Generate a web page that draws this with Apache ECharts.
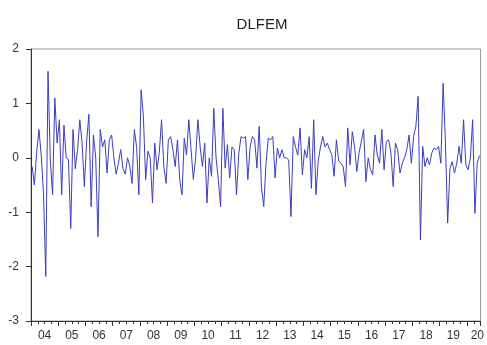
<!DOCTYPE html>
<html>
<head>
<meta charset="utf-8">
<script src="https://cdn.jsdelivr.net/npm/echarts@6/dist/echarts.min.js"></script>
<style>html,body{margin:0;padding:0;background:#fff}#c{width:487px;height:345px}</style>
</head>
<body>
<div id="c"></div>
<script>
// Monthly observations, 2004M01 .. 2020M06
var startYear = 2004;
var endYear = 2020.5;
var values = [
  -0.16, -0.5, 0.1, 0.52, 0.05, -0.65, -2.18, 1.59, -0.04, -0.68,
  1.1, 0.27, 0.7, -0.68, 0.6, 0.0, -0.03, -1.3, 0.52, -0.2,
  0.15, 0.7, 0.27, -0.53, 0.3, 0.8, -0.9, 0.42, 0.0, -1.45,
  0.52, 0.2, 0.33, -0.28, 0.33, 0.42, 0.0, -0.3, -0.1, 0.15,
  -0.2, -0.3, 0.0, -0.15, -0.47, 0.52, 0.2, -0.68, 1.25, 0.76,
  -0.4, 0.12, 0.0, -0.83, 0.27, -0.22, 0.1, 0.7, -0.16, -0.47,
  0.33, 0.39, 0.15, -0.16, 0.33, -0.4, -0.68, 0.36, 0.05, 0.7,
  0.15, -0.4, 0.0, 0.7, 0.2, -0.16, 0.27, -0.83, 0.0, -0.34,
  0.91, 0.0, -0.4, -0.9, 0.91, -0.19, 0.24, -0.37, 0.2, 0.15,
  -0.68, 0.08, 0.39, 0.36, 0.39, -0.4, 0.2, 0.39, 0.33, -0.19,
  0.58, -0.55, -0.9, -0.1, 0.36, 0.33, 0.39, -0.37, 0.18, 0.0,
  0.15, 0.0, 0.0, -0.04, -1.08, 0.39, 0.2, 0.05, 0.55, -0.31,
  0.15, 0.0, 0.39, -0.56, 0.7, -0.68, -0.05, 0.2, 0.39, 0.2,
  0.27, 0.15, 0.05, -0.34, 0.33, -0.06, -0.1, -0.16, -0.53, 0.55,
  -0.13, 0.48, 0.2, -0.25, 0.1, 0.3, 0.52, -0.44, 0.0,
  -0.22, -0.31, 0.42, 0.05, -0.1, 0.52, -0.22, 0.3, 0.33, 0.1, -0.53,
  0.27, 0.15, -0.28, -0.1, 0.0, 0.15, 0.42, -0.1, 0.39, 0.58,
  1.13, -1.51, 0.21, -0.16, 0.0, -0.13, 0.09, 0.18, 0.15, 0.21,
  -0.1, 1.37, 0.3, -1.2, -0.2, -0.07, -0.28, -0.1, 0.21, -0.1,
  0.7, -0.13, -0.22, 0.0, 0.7, -1.02, -0.1, 0.04
];
var yearLabels = ['04','05','06','07','08','09','10','11','12','13','14','15','16','17','18','19','20'];
var yMin = -3, yMax = 2, yInterval = 1;

var points = values.map(function (v, i) { return [startYear + (i + 0.5) / 12, v]; });
var labelPos = yearLabels.map(function (l, k) {
  return Math.min(startYear + k + 0.5, endYear - 0.12);
});
var labelMap = {};
labelPos.forEach(function (p, k) { labelMap[p.toFixed(3)] = yearLabels[k]; });

var chart = echarts.init(document.getElementById('c'), null, {renderer: 'canvas'});
chart.setOption({
  animation: false,
  backgroundColor: '#fff',
  title: {
    text: 'DLFEM',
    left: 257, top: 12, textAlign: 'center',
    textStyle: {fontFamily: 'Liberation Sans, Arial, sans-serif', fontSize: 15, fontWeight: 'normal', color: '#222'}
  },
  grid: {left: 31, right: 4, top: 49, bottom: 24, show: true, borderColor: '#999', borderWidth: 1},
  xAxis: {
    type: 'value', min: startYear, max: endYear, interval: 1,
    axisLine: {show: true, onZero: false, lineStyle: {color: '#333', width: 1}},
    axisTick: {show: true, length: 5, lineStyle: {color: '#333'}},
    minorTick: {show: true, splitNumber: 4, length: 3, lineStyle: {color: '#333'}},
    splitLine: {show: false},
    axisLabel: {
      customValues: labelPos,
      margin: 9,
      fontFamily: 'Liberation Sans, Arial, sans-serif', fontSize: 12, color: '#333',
      formatter: function (v) { return labelMap[Number(v).toFixed(3)] || ''; }
    }
  },
  yAxis: {
    type: 'value', min: yMin, max: yMax, interval: yInterval,
    axisLine: {show: true, lineStyle: {color: '#333', width: 1}},
    axisTick: {show: true, length: 5, lineStyle: {color: '#333'}},
    splitLine: {show: false},
    axisLabel: {margin: 12, fontFamily: 'Liberation Sans, Arial, sans-serif', fontSize: 12, color: '#333'}
  },
  series: [{
    type: 'line', data: points, showSymbol: false, symbol: 'none',
    lineStyle: {color: '#3d3dbf', width: 1},
    silent: true
  }]
});
</script>
</body>
</html>
